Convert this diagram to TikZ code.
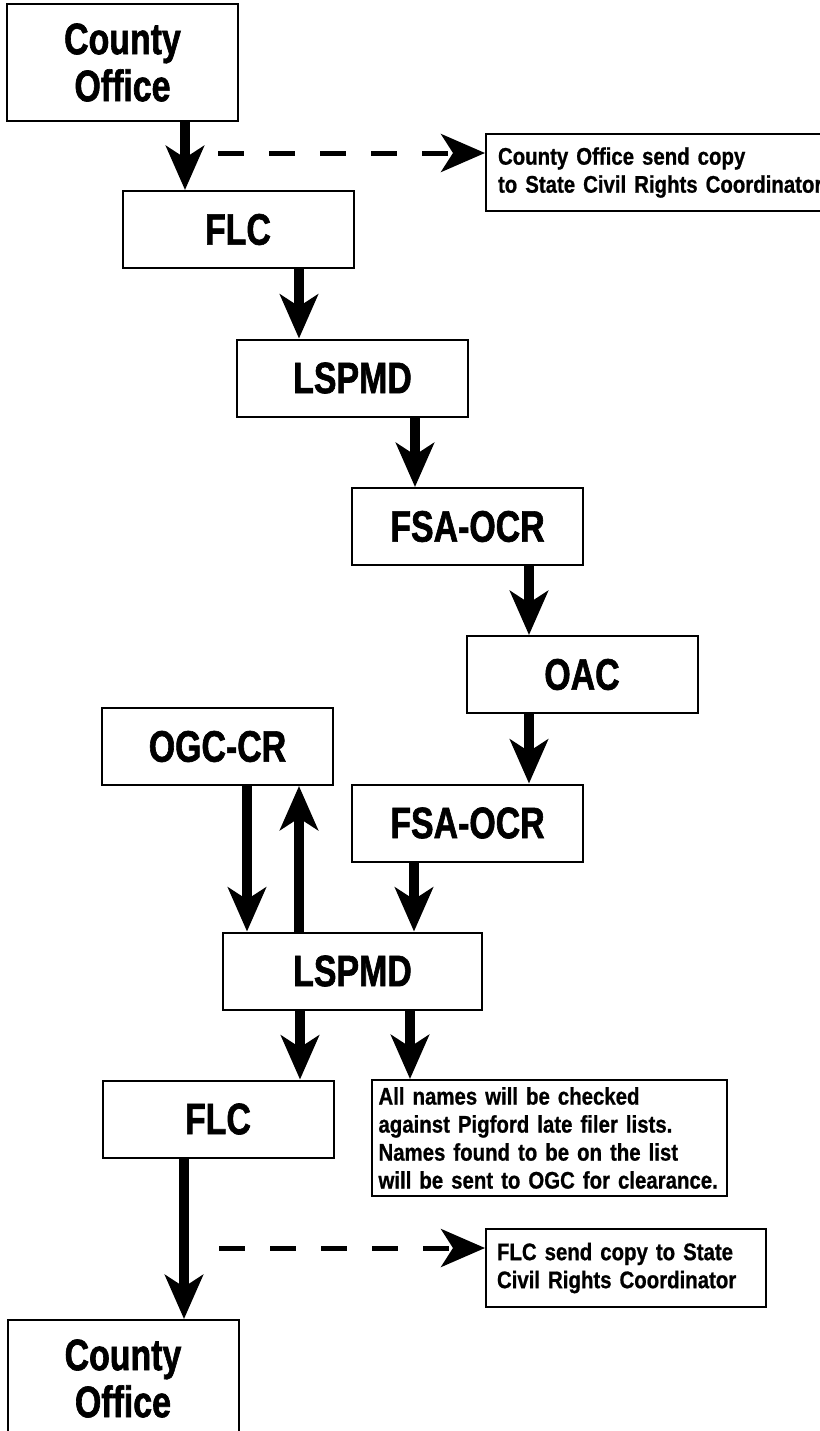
\documentclass[tikz,border=0pt]{standalone}
\usepackage{fontspec}
\usetikzlibrary{arrows.meta}
\newfontfamily\boxfont[FakeStretch=0.77, WordSpace=0.8, BoldFeatures={FakeBold=1.4}]{Liberation Sans}
\newfontfamily\notefont[FakeStretch=0.85, WordSpace=0.7, BoldFeatures={FakeBold=0.8}]{Liberation Sans}
\hyphenpenalty=10000

\tikzset{
  stepbox/.style={draw, line width=1pt, minimum width=115.5pt, minimum height=38.5pt, inner sep=0pt, align=center,
    font=\boxfont\bfseries\fontsize{22}{23.5}\selectfont},
  notebox/.style={draw, line width=1pt, align=left, inner ysep=2pt, anchor=west,
    font=\notefont\bfseries\fontsize{12}{14}\selectfont},
  flow/.style={line width=5pt, -{Stealth[length=22pt, width=19pt, inset=6pt]}},
  copyto/.style={line width=2.5pt, dash pattern=on 13pt off 12.5pt, -{Stealth[length=22pt, width=19pt, inset=6pt]}}
}

\begin{document}
\begin{tikzpicture}[x=0.5pt, y=-0.5pt]
\useasboundingbox (0,0) rectangle (820,1431);

% main chain
\node[stepbox, minimum height=58.5pt] (co1) at (122.5,62.5) {County\\Office};
\node[stepbox] (flc1) at (238,229.5) {FLC};
\node[stepbox] (lsp1) at (352.5,378) {LSPMD};
\node[stepbox] (fsa1) at (467.5,526.5) {FSA-OCR};
\node[stepbox] (oac) at (582,674.5) {OAC};
\node[stepbox] (ogc) at (217.5,746.5) {OGC-CR};
\node[stepbox] (fsa2) at (467.5,823) {FSA-OCR};
\node[stepbox, minimum width=129.5pt] (lsp2) at (352.5,971) {LSPMD};
\node[stepbox] (flc2) at (218,1119) {FLC};
\node[stepbox, minimum height=58.5pt] (co2) at (123,1378.5) {County\\Office};

% side notes
\node[notebox, minimum height=38.5pt, text width=172pt, inner xsep=6pt] (note1) at (485,172.5)
  {County Office send copy\\to State Civil Rights Coordinator};
\node[notebox, minimum height=58pt, text width=171pt, inner xsep=3.25pt] (note2) at (371,1138)
  {All names will be checked\\against Pigford late filer lists.\\Names found to be on the list\\will be sent to OGC for clearance.};
\node[notebox, minimum height=39pt, text width=129pt, inner xsep=5.5pt] (note3) at (485,1268)
  {FLC send copy to State\\Civil Rights Coordinator};

\draw[flow] ([xshift=31.25pt]co1.south) -- ([xshift=-26.5pt]flc1.north);
\draw[flow] ([xshift=30.5pt]flc1.south) -- ([xshift=-26.75pt]lsp1.north);
\draw[flow] ([xshift=31.25pt]lsp1.south) -- ([xshift=-26.25pt]fsa1.north);
\draw[flow] ([xshift=30.75pt]fsa1.south) -- ([xshift=-26.5pt]oac.north);
\draw[flow] ([xshift=-26.5pt]oac.south) -- ([xshift=30.75pt]fsa2.north);
\draw[flow] ([xshift=-26.75pt]fsa2.south) -- ([xshift=30.75pt]lsp2.north);
\draw[flow] ([xshift=14.75pt]ogc.south) -- ([xshift=-52.75pt]lsp2.north);
\draw[flow] ([xshift=-26.75pt]lsp2.north) -- ([xshift=40.75pt]ogc.south);
\draw[flow] ([xshift=-26.25pt]lsp2.south) -- ([xshift=41pt]flc2.north);
\draw[flow] ([xshift=28.75pt]lsp2.south) -- ([xshift=19.5pt]note2.north west);
\draw[flow] ([xshift=-17pt]flc2.south) -- ([xshift=30.5pt]co2.north);

% copies
\coordinate (d1) at (218,153);
\coordinate (d2) at (219,1248);
\draw[copyto] (d1) -- (d1 -| note1.west);
\draw[copyto] (d2) -- (d2 -| note3.west);
\end{tikzpicture}
\end{document}
